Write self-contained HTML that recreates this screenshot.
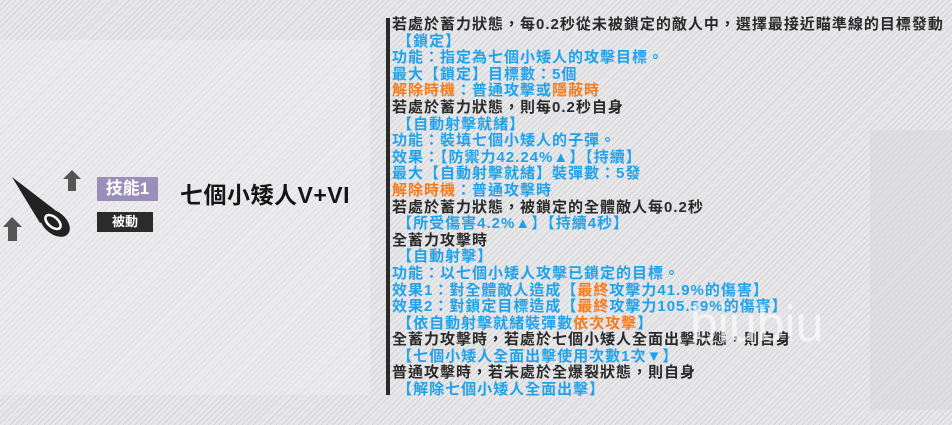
<!DOCTYPE html>
<html><head><meta charset="utf-8"><style>
body{margin:0;width:952px;height:425px;overflow:hidden;background:#e4e4e6;font-family:"Liberation Sans","Noto Sans CJK TC",sans-serif;position:relative}
.bg{position:absolute;inset:0;background:repeating-linear-gradient(135deg,#e8e8ea 0 3px,#d4d4d7 3px 4px)}
.bar{position:absolute;left:386px;top:18px;width:4px;height:377px;background:#2a2a2a}
.txt{position:absolute;left:392px;top:17px;font-size:15px;line-height:16.6px;font-weight:bold;color:#2a2a2a;white-space:nowrap;letter-spacing:1px}
.b{color:#1fa2ea}.o{color:#f47a1a}
.tag1{position:absolute;left:97px;top:177px;width:61px;height:24px;background:#9a8fb8;color:#fff;font-size:17px;font-weight:bold;text-align:center;line-height:24px}
.tag2{position:absolute;left:97px;top:212px;width:56px;height:20px;background:#2b2b2b;color:#fff;font-size:13px;font-weight:bold;text-align:center;line-height:20px}
.title{position:absolute;left:180px;top:176px;font-size:23px;font-weight:bold;color:#151515;letter-spacing:0.5px}
</style></head><body>
<div class="bg"></div>
<div style="position:absolute;left:0;top:40px;width:370px;height:355px;background:rgba(245,245,247,0.3)"></div>
<div style="position:absolute;left:870px;top:130px;width:82px;height:280px;background:rgba(210,210,214,0.4)"></div>
<svg style="position:absolute;left:0;top:165px" width="90" height="90">
<path d="M12 12 L55 45 L58 52 L40 58 Z" fill="#222"/>
<ellipse cx="55" cy="58" rx="17" ry="11" transform="rotate(40 55 58)" fill="#222"/>
<ellipse cx="53" cy="57" rx="9" ry="5" transform="rotate(40 53 57)" fill="none" stroke="#fff" stroke-width="2.5"/>
<path d="M72 5 l9 9 h-5 v12 h-8 v-12 h-5z" fill="#555"/>
<path d="M12 52 l10 10 h-5 v14 h-9 v-14 h-5z" fill="#555"/>
</svg>
<div class="tag1">技能1</div>
<div class="tag2">被動</div>
<div class="title">七個小矮人V+VI</div>
<div class="bar"></div>
<div class="txt">
若處於蓄力狀態，每0.2秒從未被鎖定的敵人中，選擇最接近瞄準線的目標發動<br>
<span class="b">&nbsp;【鎖定】</span><br>
<span class="b">功能：指定為七個小矮人的攻擊目標。</span><br>
<span class="b">最大【鎖定】目標數：5個</span><br>
<span class="o">解除時機</span><span class="b">：普通攻擊或</span><span class="o">隱蔽時</span><br>
若處於蓄力狀態，則每0.2秒自身<br>
<span class="b">&nbsp;【自動射擊就緒】</span><br>
<span class="b">功能：裝填七個小矮人的子彈。</span><br>
<span class="b">效果：【防禦力42.24%▲】【持續】</span><br>
<span class="b">最大【自動射擊就緒】裝彈數：5發</span><br>
<span class="o">解除時機</span><span class="b">：普通攻擊時</span><br>
若處於蓄力狀態，被鎖定的全體敵人每0.2秒<br>
<span class="b">&nbsp;【所受傷害4.2%▲】【持續4秒】</span><br>
全蓄力攻擊時<br>
<span class="b">&nbsp;【自動射擊】</span><br>
<span class="b">功能：以七個小矮人攻擊已鎖定的目標。</span><br>
<span class="b">效果1：對全體敵人造成【</span><span class="o">最終</span><span class="b">攻擊力41.9%的傷害】</span><br>
<span class="b">效果2：對鎖定目標造成【</span><span class="o">最終</span><span class="b">攻擊力105.59%的傷害】</span><br>
<span class="b">&nbsp;【依自動射擊就緒裝彈數</span><span class="o">依次攻擊</span><span class="b">】</span><br>
全蓄力攻擊時，若處於七個小矮人全面出擊狀態，則自身<br>
<span class="b">&nbsp;【七個小矮人全面出擊使用次數1次▼】</span><br>
普通攻擊時，若未處於全爆裂狀態，則自身<br>
<span class="b">&nbsp;【解除七個小矮人全面出擊】</span>
</div>
<div style="position:absolute;left:690px;top:295px;font-size:50px;color:rgba(255,255,255,0.6);font-family:'Liberation Sans',sans-serif">biubiu</div>
</body></html>
